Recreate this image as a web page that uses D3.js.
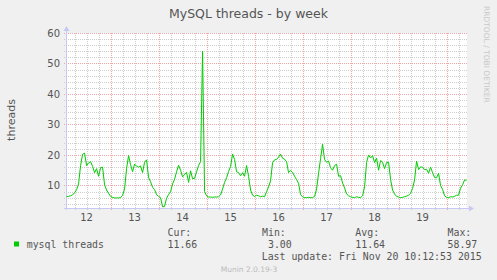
<!DOCTYPE html>
<html>
<head>
<meta charset="utf-8">
<script src="https://cdn.jsdelivr.net/npm/d3@7"></script>
<style>
  body { margin: 0; background: #f0f0f0; }
  svg { display: block; }
</style>
</head>
<body>
<div id="chart-area"></div>
<script>
// hourly averages, Nov 12 02:00 -> Nov 20 10:00 (UTC as shown)
const startTime = Date.UTC(2015, 10, 12, 2)
const threads = [
  // 12 (from 02h)
  6.3, 6.4, 6.6, 6.9, 7.6, 8.6, 10.5, 16.5, 20.2, 20.6, 16.5, 17.4, 17.8, 16.3, 14.2, 15.5, 13.0, 15.8, 16.0, 10.2, 8.5, 7.4,
  // 13
  6.4, 6.1, 5.9, 5.9, 5.9, 6.0, 6.8, 8.8, 15.5, 19.8, 16.8, 14.5, 17.0, 16.3, 16.0, 16.4, 14.2, 17.6, 18.4, 12.6, 11.2, 9.4, 8.6, 7.0,
  // 14
  6.4, 6.0, 3.0, 3.1, 5.8, 7.0, 8.0, 10.5, 12.0, 14.5, 16.6, 15.0, 12.8, 13.6, 14.3, 11.0, 14.8, 12.2, 12.3, 14.5, 16.5, 17.8, 54.0, 8.0,
  // 15
  6.6, 6.2, 6.2, 6.1, 6.2, 6.2, 6.3, 6.9, 8.8, 11.0, 12.5, 14.6, 16.2, 20.3, 18.5, 14.5, 14.2, 13.2, 14.2, 13.0, 16.5, 13.0, 8.5, 6.8,
  // 16
  6.4, 6.8, 6.6, 6.3, 6.5, 6.3, 8.0, 9.5, 11.5, 17.5, 18.4, 18.5, 19.3, 20.3, 18.9, 18.6, 17.8, 14.2, 14.9, 14.3, 13.0, 11.9, 10.7, 7.0,
  // 17
  6.3, 6.0, 6.0, 6.1, 6.0, 6.0, 6.4, 8.8, 14.0, 18.8, 23.5, 18.5, 17.6, 18.0, 15.8, 15.0, 16.5, 17.0, 13.0, 13.2, 10.8, 9.2, 7.2, 6.6,
  // 18
  6.3, 6.1, 6.0, 6.3, 6.1, 6.0, 6.6, 9.5, 17.5, 20.0, 19.0, 19.8, 17.5, 19.0, 15.0, 18.2, 17.6, 15.5, 17.5, 17.6, 12.0, 8.5, 7.2, 6.4,
  // 19
  6.2, 6.0, 6.1, 6.3, 6.5, 6.8, 7.4, 9.0, 11.8, 18.0, 15.2, 16.1, 16.0, 15.2, 15.3, 14.0, 16.0, 14.2, 12.6, 12.5, 14.0, 10.0, 8.7, 6.6,
  // 20 (to 10h)
  6.1, 6.0, 6.3, 6.2, 6.4, 6.8, 6.8, 9.1, 10.2, 11.8, 11.66
]
const yTicks = [10, 20, 30, 40, 50, 60]
const legendName = 'mysql threads'
const statLabels = ['Cur:', 'Min:', 'Avg:', 'Max:']
const statValues = ['11.66', ' 3.00', '11.64', '58.97']
const lastUpdate = 'Last update: Fri Nov 20 10:12:53 2015'

const width = 497, height = 280
const plot = {left: 67, right: 467, top: 33, bottom: 208}

const svg = d3.select('#chart-area').append('svg')
  .attr('width', width)
  .attr('height', height)

svg.append('rect').attr('width', width).attr('height', height).attr('fill', '#f0f0f0')

const x = d3.scaleUtc()
  .domain([new Date(Date.UTC(2015, 10, 12, 2, 12, 53)), new Date(Date.UTC(2015, 10, 20, 10, 12, 53))])
  .range([plot.left, plot.right])
const y = d3.scaleLinear().domain([2.6, 60]).range([plot.bottom, plot.top])

const data = threads.map((v, i) => ({t: new Date(startTime + i * 3600e3), v}))

svg.append('rect')
  .attr('x', plot.left).attr('y', plot.top)
  .attr('width', plot.right - plot.left).attr('height', plot.bottom - plot.top)
  .attr('fill', '#fff')

const grid = svg.append('g').attr('shape-rendering', 'crispEdges')
const minorCol = '#cecece', majorCol = '#f0a6a6'

// horizontal grid
d3.range(4, 60, 2).filter(v => v % 10 !== 0).forEach(v => {
  const yy = Math.round(y(v)) + 0.5
  grid.append('line').attr('x1', plot.left - 3).attr('x2', plot.right + 1).attr('y1', yy).attr('y2', yy)
    .attr('stroke', minorCol).attr('stroke-dasharray', '1,1')
})
yTicks.forEach(v => {
  const yy = Math.round(y(v)) + 0.5
  grid.append('line').attr('x1', plot.left - 3).attr('x2', plot.right + 1).attr('y1', yy).attr('y2', yy)
    .attr('stroke', majorCol).attr('stroke-dasharray', '1,1')
})

// vertical grid: 6h minor, midnight major
const sixHours = d3.utcHour.every(6).range(x.domain()[0], x.domain()[1])
sixHours.forEach(t => {
  const xx = Math.round(x(t)) + 0.5
  const major = t.getUTCHours() === 0
  grid.append('line').attr('x1', xx).attr('x2', xx).attr('y1', plot.top).attr('y2', plot.bottom + 3)
    .attr('stroke', major ? majorCol : minorCol).attr('stroke-dasharray', '1,1')
})

// axes
const axisCol = '#c8c8f4'
grid.append('line').attr('x1', plot.left - 0.5).attr('x2', plot.left - 0.5).attr('y1', plot.bottom + 2).attr('y2', 29)
  .attr('stroke', axisCol)
grid.append('line').attr('x1', plot.left - 3).attr('x2', plot.right + 3).attr('y1', plot.bottom + 0.5).attr('y2', plot.bottom + 0.5)
  .attr('stroke', axisCol)
svg.append('path').attr('d', `M${plot.left - 3.5},31 L${plot.left - 0.5},26 L${plot.left + 2.5},31 Z`).attr('fill', axisCol)
svg.append('path').attr('d', `M${plot.right + 2},${plot.bottom - 2.5} L${plot.right + 7},${plot.bottom + 0.5} L${plot.right + 2},${plot.bottom + 3.5} Z`).attr('fill', axisCol)

// series
svg.append('path')
  .datum(data)
  .attr('fill', 'none')
  .attr('stroke', '#00cc00')
  .attr('stroke-width', 1)
  .attr('d', d3.line().x(d => x(d.t)).y(d => y(d.v)))

const textCol = '#555'
// y labels
svg.append('g').selectAll('text').data(yTicks).join('text')
  .attr('x', 60).attr('y', d => y(d) + 3.6)
  .attr('text-anchor', 'end')
  .attr('font-family', 'DejaVu Sans').attr('font-size', 10).attr('fill', textCol)
  .text(d => d)

// x labels at noon
const noons = d3.utcDay.range(new Date(Date.UTC(2015, 10, 12)), new Date(Date.UTC(2015, 10, 20)))
  .map(d => new Date(+d + 12 * 3600e3))
svg.append('g').selectAll('text').data(noons).join('text')
  .attr('x', d => x(d)).attr('y', 221)
  .attr('text-anchor', 'middle')
  .attr('font-family', 'DejaVu Sans').attr('font-size', 10).attr('fill', textCol)
  .text(d => d3.utcFormat('%d')(d))

// title
svg.append('text').attr('x', 248.5).attr('y', 17.8).attr('text-anchor', 'middle')
  .attr('font-family', 'DejaVu Sans').attr('font-size', 12.5).attr('fill', textCol)
  .text('MySQL threads - by week')

svg.append('text').attr('transform', 'translate(14.5,120) rotate(-90)').attr('text-anchor', 'middle')
  .attr('font-family', 'DejaVu Sans').attr('font-size', 11).attr('fill', textCol)
  .text('threads')

svg.append('text').attr('transform', 'translate(484,6) rotate(90)')
  .attr('font-family', 'DejaVu Sans').attr('font-size', 7.5).attr('fill', '#c8c8c8')
  .text('RRDTOOL / TOBI OETIKER')

// legend
const mono = 'DejaVu Sans Mono'
svg.append('rect').attr('x', 14).attr('y', 241.5).attr('width', 5).attr('height', 5).attr('fill', '#00cc00')
svg.append('text').attr('x', 26.7).attr('y', 248).attr('font-family', mono).attr('font-size', 9.9).attr('fill', textCol)
  .style('white-space', 'pre').text(legendName)
const statX = [167.5, 262, 355.3, 447.5]
statLabels.forEach((s, i) => {
  svg.append('text').attr('x', statX[i]).attr('y', 236.3).attr('font-family', mono).attr('font-size', 9.9).attr('fill', textCol)
    .text(s)
  svg.append('text').attr('x', statX[i]).attr('y', 248).attr('font-family', mono).attr('font-size', 9.9).attr('fill', textCol)
    .attr('xml:space', 'preserve').style('white-space', 'pre').text(statValues[i])
})
svg.append('text').attr('x', 261.7).attr('y', 260.3).attr('font-family', mono).attr('font-size', 9.9).attr('fill', textCol)
  .style('white-space', 'pre').text(lastUpdate)

svg.append('text').attr('x', 249).attr('y', 272).attr('text-anchor', 'middle')
  .attr('font-family', 'DejaVu Sans').attr('font-size', 7.5).attr('fill', '#bbb')
  .text('Munin 2.0.19-3')
</script>
</body>
</html>
